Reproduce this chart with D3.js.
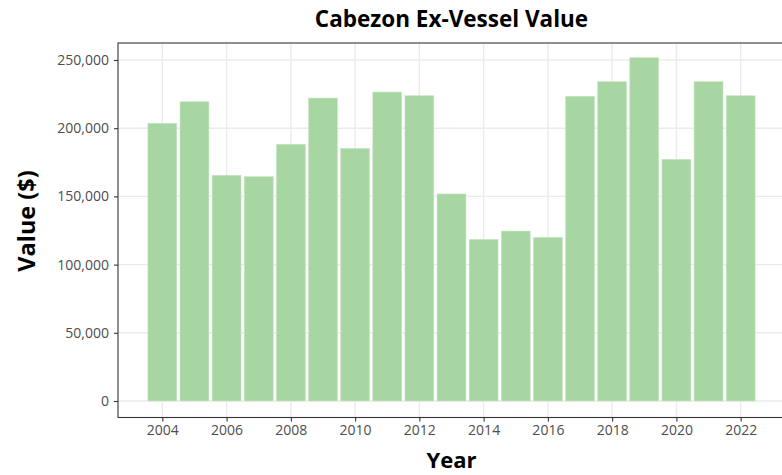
<!DOCTYPE html>
<html>
<head>
<meta charset="utf-8">
<script src="https://cdn.jsdelivr.net/npm/d3@7"></script>
<style>
  html, body { margin: 0; padding: 0; background: #fff; }
  svg { display: block; }
</style>
</head>
<body>
<svg id="chart" width="782" height="475"></svg>
<script>
// Cabezon ex-vessel value by year (USD)
const years = [2004, 2005, 2006, 2007, 2008, 2009, 2010, 2011, 2012, 2013,
               2014, 2015, 2016, 2017, 2018, 2019, 2020, 2021, 2022];
const values = [203600, 219400, 165500, 164500, 188200, 222100, 185200, 226500, 223800, 151800,
                118500, 124600, 120000, 223400, 234100, 251700, 177200, 234100, 223800];
const xTicks = [2004, 2006, 2008, 2010, 2012, 2014, 2016, 2018, 2020, 2022];
const yTicks = [0, 50000, 100000, 150000, 200000, 250000];

const svg = d3.select("#chart");
const font = "'Open Sans', 'Noto Sans', sans-serif";

const panel = { left: 118, right: 785, top: 43, bottom: 417.5 };

const x = d3.scaleLinear()
  .domain([2002.62, 2023.38])
  .range([panel.left, panel.right]);

const y = d3.scaleLinear()
  .domain([0, 250000])
  .range([401, 60]);

const barWidth = x(2004.9) - x(2004);

// panel gridlines
const grid = svg.append("g");
grid.selectAll("line.h").data(yTicks).join("line")
  .attr("x1", panel.left).attr("x2", panel.right)
  .attr("y1", d => y(d)).attr("y2", d => y(d))
  .attr("stroke", "#ebebeb").attr("stroke-width", 1.4);
grid.selectAll("line.v").data(xTicks).join("line")
  .attr("y1", panel.top).attr("y2", panel.bottom)
  .attr("x1", d => x(d)).attr("x2", d => x(d))
  .attr("stroke", "#ebebeb").attr("stroke-width", 1.4);

// bars
svg.append("g").selectAll("rect").data(years).join("rect")
  .attr("x", (d) => x(d) - barWidth / 2)
  .attr("width", barWidth)
  .attr("y", (d, i) => y(values[i]))
  .attr("height", (d, i) => y(0) - y(values[i]))
  .attr("fill", "#a8d6a3")
  .attr("stroke", "#c8e6c4")
  .attr("stroke-width", 0.6);

// panel border
svg.append("rect")
  .attr("x", panel.left).attr("y", panel.top)
  .attr("width", panel.right - panel.left).attr("height", panel.bottom - panel.top)
  .attr("fill", "none").attr("stroke", "#333").attr("stroke-width", 1.1);

// axes
const yAxis = svg.append("g")
  .attr("transform", `translate(${panel.left},0)`)
  .call(d3.axisLeft(y).tickValues(yTicks).tickSize(4).tickPadding(5)
    .tickFormat(d3.format(",")));
const xAxis = svg.append("g")
  .attr("transform", `translate(0,${panel.bottom})`)
  .call(d3.axisBottom(x).tickValues(xTicks).tickSize(4).tickPadding(4)
    .tickFormat(d3.format("d")));

[yAxis, xAxis].forEach(g => {
  g.select(".domain").remove();
  g.selectAll(".tick line").attr("stroke", "#333").attr("stroke-width", 1.1);
  g.selectAll(".tick text")
    .attr("fill", "#4d4d4d")
    .style("font-family", font)
    .style("font-size", "14px");
});

// titles
svg.append("text")
  .attr("x", (panel.left + panel.right) / 2).attr("y", 27)
  .attr("text-anchor", "middle")
  .style("font-family", font).style("font-weight", "bold").style("font-size", "22.5px")
  .attr("fill", "#000")
  .text("Cabezon Ex-Vessel Value");

svg.append("text")
  .attr("x", (panel.left + panel.right) / 2).attr("y", 468)
  .attr("text-anchor", "middle")
  .style("font-family", font).style("font-weight", "bold").style("font-size", "22px")
  .attr("fill", "#000")
  .text("Year");

svg.append("text")
  .attr("transform", "translate(35,221) rotate(-90)")
  .attr("text-anchor", "middle")
  .style("font-family", font).style("font-weight", "bold").style("font-size", "23.5px")
  .attr("fill", "#000")
  .text("Value ($)");
</script>
</body>
</html>
